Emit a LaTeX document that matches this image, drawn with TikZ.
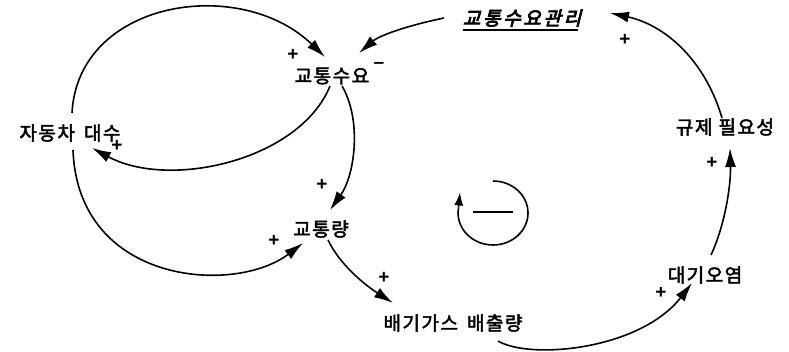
\documentclass[tikz,border=0pt]{standalone}
\usepackage{fontspec}
\setmainfont{Liberation Sans}
\newfontfamily\kr[LetterSpace=8,FakeBold=2.5]{Noto Sans CJK KR}
\newfontfamily\krb[LetterSpace=14,FakeSlant=0.25,FakeBold=4]{Noto Sans CJK KR}
\usetikzlibrary{arrows.meta,calc}
\begin{document}
\begin{tikzpicture}[x=1pt,y=-1pt,
  lbl/.style={font=\kr\fontsize{19}{19}\selectfont, inner sep=0pt},
  lblb/.style={font=\krb\fontsize{19}{19}\selectfont, inner sep=0pt},
  arr/.style={line width=1.6pt, -{Latex[length=19pt,width=11pt]}},
  larr/.style={line width=1.6pt, -{Latex[length=13pt,width=9pt]}},
  pl/.style={font=\bfseries\fontsize{19}{19}\selectfont, inner sep=0pt}]
\useasboundingbox (0,0) rectangle (789,352);
% nodes
\node[lblb] (dm) at (522,18) {교통수요관리};
\node[lbl] (td) at (332,76) {교통수요};
\node[lbl] (car) at (70,133) {자동차\hspace{9pt}대수};
\node[lbl] (tv) at (321,229) {교통량};
\node[lbl] (em) at (453,323) {배기가스\hspace{9pt}배출량};
\node[lbl] (ap) at (705,275) {대기오염};
\node[lbl] (rn) at (725,127) {규제\hspace{6pt}필요성};
\draw[line width=1.6pt] ($(dm.south west)+(0,3)$) -- ($(dm.south east)+(-3,3)$);
% connectors
\draw[arr] ($(car)+(2,-20)$) .. controls (78,0) and (240,-25) .. ($(td)+(-7,-19)$);
\draw[arr] ($(car)+(3,17)$) .. controls (78,285) and (235,295) .. ($(tv)+(-18,14)$);
\draw[arr] ($(td)+(-2,10)$) .. controls (300,160) and (170,190) .. ($(car)+(22,15)$);
\draw[arr] ($(td)+(10,10)$) .. controls (362,120) and (355,175) .. ($(tv)+(9,-19)$);
\draw[arr] ($(tv)+(7,11)$) .. controls (340,265) and (365,285) .. ($(em)+(-60,-20)$);
\draw[arr] ($(em)+(45,18)$) .. controls (530,360) and (640,350) .. ($(ap)+(-13,8)$);
\draw[arr] ($(ap)+(6,-20)$) .. controls (725,225) and (731,185) .. ($(rn)+(5,21)$);
\draw[arr] ($(rn)+(-3,-9)$) .. controls (705,60) and (665,25) .. ($(dm)+(88,-5)$);
\draw[arr] ($(dm)+(-78,0)$) .. controls (410,25) and (380,35) .. ($(td)+(27,-23)$);
% polarity signs
\node[pl] (p1) at (293,55) {+};
\node[pl] (m1) at (379,65) {\textendash};
\node[pl] (p2) at (117,146) {+};
\node[pl] (p3) at (322,185) {+};
\node[pl] (p4) at (274,241) {+};
\node[pl] (p5) at (384,278) {+};
\node[pl] (p6) at (661,293) {+};
\node[pl] (p7) at (712,163) {+};
\node[pl] (p8) at (625,40) {+};
% loop symbol
\coordinate (lc) at (493,213);
\begin{scope}[shift={(lc)}, x=1pt, y=1pt]
\draw[line width=1.6pt] (0,32) arc[start angle=90,end angle=-190,x radius=35,y radius=32] coordinate (le);
\draw[larr] (le) -- ++(1.5,15);
\draw[line width=2pt] (-20,1) -- (20,1);
\end{scope}
\end{tikzpicture}
\end{document}
